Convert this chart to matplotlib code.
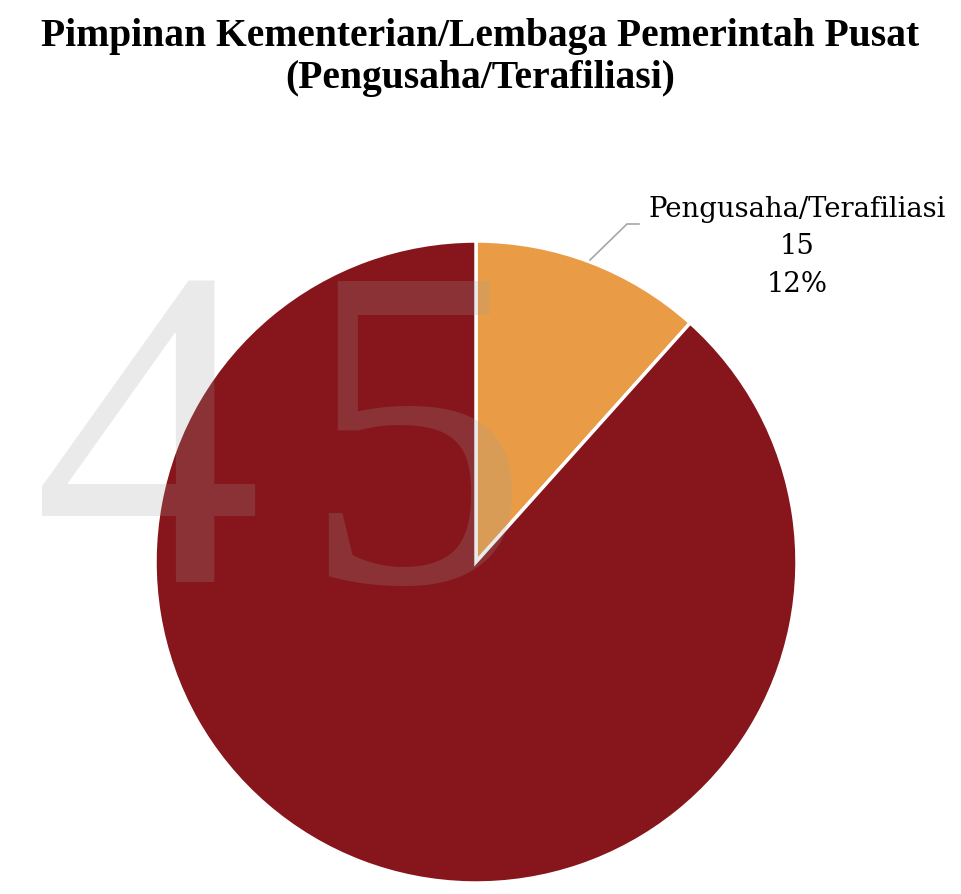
import matplotlib
matplotlib.use("Agg")
import matplotlib.pyplot as plt

# Data
labels = ["Pengusaha/Terafiliasi", "Lainnya"]
values = [15, 114]
percents = ["12%", ""]
colors = ["#e99c45", "#86161b"]
title = "Pimpinan Kementerian/Lembaga Pemerintah Pusat\n(Pengusaha/Terafiliasi)"

fig = plt.figure(figsize=(9.61, 8.94), dpi=100)
ax = fig.add_axes([0, 0, 1, 1])

ax.pie(values, colors=colors, startangle=90, counterclock=False,
       center=(476, 332), radius=321,
       wedgeprops=dict(edgecolor="white", linewidth=2.5))
ax.set_xlim(0, 961)
ax.set_ylim(0, 894)
ax.set_aspect("equal")
ax.axis("off")

# watermark "45" drawn over the pie, semi-transparent
ax.text(148, 423, "4", fontsize=330, family="Liberation Serif", color="#9e9e9e",
        alpha=0.21, ha="center", va="center", zorder=5)
ax.text(415, 423, "5", fontsize=330, family="Liberation Serif", color="#9e9e9e",
        alpha=0.21, ha="center", va="center", zorder=5)

# data label with leader line
ax.plot([590, 627, 639], [894 - 260, 894 - 224, 894 - 224], color="#a6a6a6", lw=1.2)
ax.text(797, 894 - 247, f"{labels[0]}\n{values[0]}\n{percents[0]}",
        ha="center", va="center", fontsize=19.8, family="DejaVu Serif",
        linespacing=1.5, color="black")

fig.text(0.5, 0.936, title, ha="center", va="center", fontsize=28.5,
         fontweight="bold", family="Liberation Serif", linespacing=1.17)

fig.savefig("out.png", dpi=100)
